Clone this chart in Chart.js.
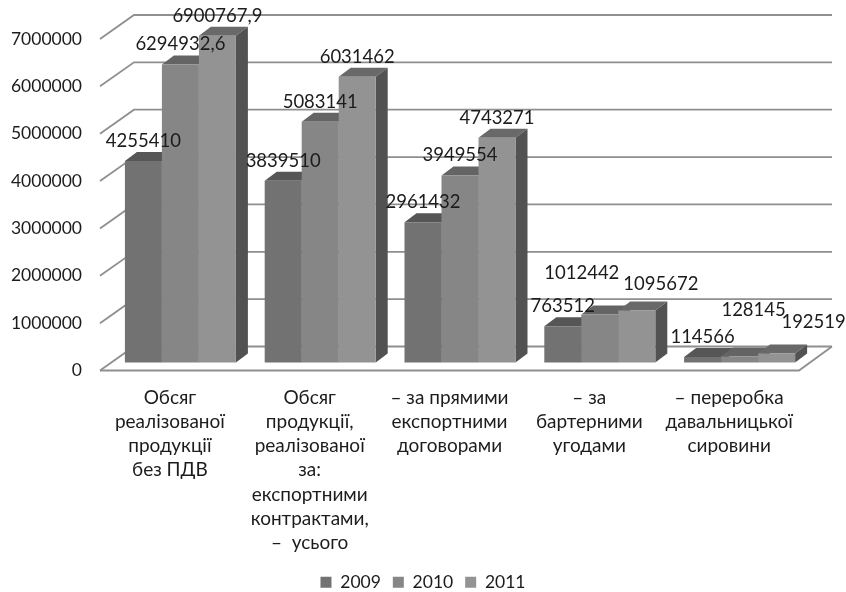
<!DOCTYPE html>
<html>
<head>
<meta charset="utf-8">
<style>
  html, body { margin: 0; padding: 0; background: #fff; }
  #wrap { width: 846px; height: 592px; }
</style>
<script src="https://cdn.jsdelivr.net/npm/chart.js@4"></script>
</head>
<body>
<div id="wrap"><canvas id="chart" width="846" height="592"></canvas></div>
<script>
const categories = [
    ['Обсяг', 'реалізованої', 'продукції', 'без ПДВ'],
    ['Обсяг', 'продукції,', 'реалізованої', 'за:', 'експортними', 'контрактами,', '–  усього'],
    ['– за прямими', 'експортними', 'договорами'],
    ['– за', 'бартерними', 'угодами'],
    ['– переробка', 'давальницької', 'сировини']
];
const years = ['2009', '2010', '2011'];
const values2009 = [4255410, 3839510, 2961432, 763512, 114566];
const values2010 = [6294932.6, 5083141, 3949554, 1012442, 128145];
const values2011 = [6900767.9, 6031462, 4743271, 1095672, 192519];

const frontColors = ['#727272', '#868686', '#939393'];
const topColors = ['#565656', '#646464', '#696969'];
const sideColor = '#525252';
const gridColor = '#8f8f8f';
const textColor = '#1c1c1c';
const fontName = 'Lato, "Open Sans", sans-serif';

// fake 3D: how far the back wall and the bar depth sit from the front plane
const wallDx = 34, wallDy = -24;
const depthDx = 12, depthDy = -9;
const barShiftX = 10.5, barShiftY = -8;

// some labels were moved by hand in the original, [dataset, category]: [dx, dy]
const labelMoves = {
    '1,3': [-18, -22],
    '2,3': [24, -7],
    '1,4': [14, -26],
    '2,4': [37, -11]
};

function poly(ctx, pts, fill) {
    ctx.beginPath();
    pts.forEach((p, i) => i ? ctx.lineTo(p[0], p[1]) : ctx.moveTo(p[0], p[1]));
    ctx.closePath();
    ctx.fillStyle = fill;
    ctx.fill();
}

const fake3d = {
    id: 'fake3d',
    beforeDatasetsDraw(chart) {
        const ctx = chart.ctx;
        const { left, right } = chart.chartArea;
        const y = chart.scales.y;

        // walls and floor
        ctx.save();
        ctx.strokeStyle = gridColor;
        ctx.lineWidth = 1.8;
        y.ticks.forEach(t => {
            const py = y.getPixelForValue(t.value);
            ctx.beginPath();
            ctx.moveTo(left, py);
            ctx.lineTo(left + wallDx, py + wallDy);
            ctx.lineTo(right + wallDx - 1, py + wallDy);
            ctx.stroke();
        });
        const py0 = y.getPixelForValue(0);
        ctx.beginPath();
        ctx.moveTo(left, py0);
        ctx.lineTo(right, py0);
        ctx.lineTo(right + wallDx - 1, py0 + wallDy);
        ctx.stroke();
        ctx.restore();

        // tops and sides go first, the library paints the fronts over them
        ctx.save();
        ctx.translate(barShiftX, barShiftY);
        chart.data.datasets.forEach((ds, d) => {
            chart.getDatasetMeta(d).data.forEach(bar => {
                const x0 = bar.x - bar.width / 2, x1 = bar.x + bar.width / 2;
                poly(ctx, [[x0, bar.y], [x1, bar.y], [x1 + depthDx, bar.y + depthDy], [x0 + depthDx, bar.y + depthDy]], topColors[d]);
                poly(ctx, [[x1, bar.y], [x1 + depthDx, bar.y + depthDy], [x1 + depthDx, bar.base + depthDy], [x1, bar.base]], sideColor);
            });
        });
    },
    afterDatasetsDraw(chart) {
        const ctx = chart.ctx;
        ctx.fillStyle = textColor;
        ctx.font = '18.5px ' + fontName;
        ctx.textAlign = 'center';
        ctx.textBaseline = 'middle';
        chart.data.datasets.forEach((ds, d) => {
            chart.getDatasetMeta(d).data.forEach((bar, i) => {
                const move = labelMoves[d + ',' + i] || [0, 0];
                const text = String(ds.data[i]).replace('.', ',');
                ctx.fillText(text, bar.x + move[0], bar.y - 20 + move[1]);
            });
        });
        ctx.restore();
    }
};

new Chart(document.getElementById('chart'), {
    type: 'bar',
    data: {
        labels: categories,
        datasets: [
            { label: years[0], data: values2009, backgroundColor: frontColors[0] },
            { label: years[1], data: values2010, backgroundColor: frontColors[1] },
            { label: years[2], data: values2011, backgroundColor: frontColors[2] }
        ]
    },
    options: {
        responsive: false,
        animation: false,
        layout: { padding: { top: 39, right: 0, left: 0, bottom: -9 } },
        datasets: { bar: { barPercentage: 1, categoryPercentage: 0.794, clip: false, borderWidth: 0 } },
        scales: {
            x: {
                grid: { display: false, drawTicks: false },
                border: { display: false },
                afterFit: s => { s.height = 191; },
                ticks: {
                    autoSkip: false, maxRotation: 0, minRotation: 0, padding: 15,
                    color: textColor,
                    font: { family: fontName, size: 19, lineHeight: 1.275 }
                }
            },
            y: {
                min: 0, max: 7000000,
                grid: { display: false, drawTicks: false },
                border: { display: false },
                afterFit: s => { s.width = 100; },
                ticks: {
                    stepSize: 1000000, padding: 18,
                    color: textColor,
                    font: { family: fontName, size: 17.5 },
                    callback: v => String(v)
                }
            },
            // empty axis, only keeps the plot off the right edge so the legend stays centred
            spacer: {
                position: 'right',
                grid: { display: false, drawTicks: false },
                border: { display: false },
                ticks: { display: false },
                afterFit: s => { s.width = 47; }
            }
        },
        plugins: {
            tooltip: { enabled: false },
            legend: {
                position: 'bottom',
                labels: {
                    boxWidth: 11, boxHeight: 11, padding: 12,
                    color: textColor,
                    font: { family: fontName, size: 17.5 }
                }
            }
        }
    },
    plugins: [fake3d]
});
</script>
</body>
</html>
